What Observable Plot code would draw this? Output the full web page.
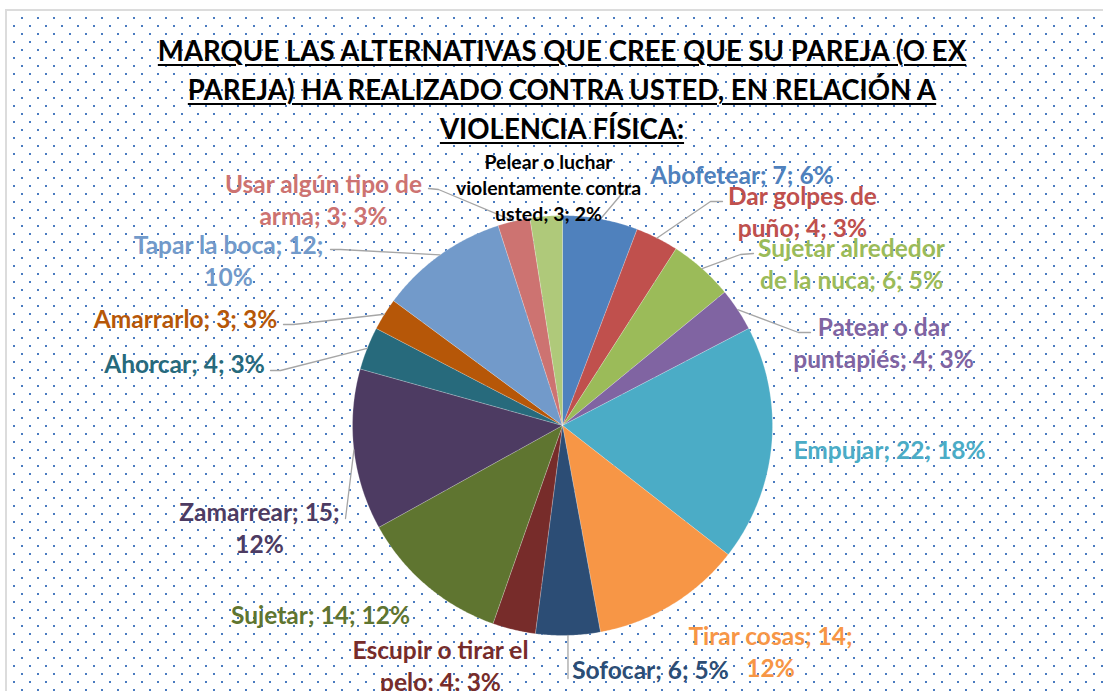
<!DOCTYPE html>
<html><head><meta charset="utf-8">
<script src="https://cdn.jsdelivr.net/npm/d3@7"></script>
<script src="https://cdn.jsdelivr.net/npm/@observablehq/plot@0.6"></script>
<style>
html,body{margin:0;padding:0;background:#fff;}
body{width:1103px;height:691px;overflow:hidden;position:relative;font-family:Lato,"Open Sans",sans-serif;}
#frame{position:absolute;left:5px;top:9px;width:1200px;height:800px;border:2px solid #dcdcdc;
 background-image:url("data:image/svg+xml,%3Csvg xmlns='http://www.w3.org/2000/svg' width='16' height='16' shape-rendering='crispEdges'%3E%3Crect x='0' y='0' width='2' height='2' fill='%234A7BC0'/%3E%3Crect x='8' y='8' width='2' height='2' fill='%234A7BC0'/%3E%3C/svg%3E");
 background-size:16px 16px;background-position:14px 6px;}
#chart{position:absolute;left:0;top:0;}
#title{position:absolute;left:0;width:1124px;top:31px;text-align:center;font-weight:700;font-size:27.6px;line-height:39px;
 text-decoration:underline;text-decoration-thickness:2px;text-underline-offset:3px;color:#000;}
</style></head>
<body>
<div id="frame"></div>
<div id="chart"></div>
<div id="title">MARQUE LAS ALTERNATIVAS QUE CREE QUE SU PAREJA (O EX<br>PAREJA) HA REALIZADO CONTRA USTED, EN RELACIÓN A<br>VIOLENCIA FÍSICA:</div>
<script>
// ---- data ----
const names = ["Abofetear","Dar golpes de puño","Sujetar alrededor de la nuca","Patear o dar puntapiés","Empujar","Tirar cosas","Sofocar","Escupir o tirar el pelo","Sujetar","Zamarrear","Ahorcar","Amarrarlo","Tapar la boca","Usar algún tipo de arma","Pelear o luchar violentamente contra usted"];
const counts = [7,4,6,4,22,14,6,4,14,15,4,3,12,3,3];
const percents = ["6%","3%","5%","3%","18%","12%","5%","3%","12%","12%","3%","3%","10%","3%","2%"];
const colors = ["#4F81BD","#C0504D","#9BBB59","#8064A2","#4BACC6","#F79646","#2C4D75","#772C2A","#5F7530","#4D3B62","#276A7C","#B65708","#729ACA","#CD7371","#AFC97A"];

// ---- layout (pixel offsets from the pie centre, y downward) ----
const W = 1103, H = 691, CX = 562, CY = 425, R = 210;
const labelWords = [[3],[3,3],[2,5],[3,3],[4],[3,1],[3],[4,3],[3],[2,1],[3],[3],[4,1],[4,3],[3,2,3]];
const labelPos = [[179.5,-252],[240,-215],[289,-162.5],[321,-84],[327,23],[208,225],[88,243],[-122,239],[-242,188],[-303,101.5],[-378,-63],[-377,-108],[-334,-166],[-239,-227],[-14,-239]];
const leaderPath = [[[68,-242]],[[148,-224],[160,-224]],[[178,-171],[191,-172]],[[236,-93],[248,-93]],[],[],[[5.5,253]],[],[],[[-217,93]],[[-282,-55],[-292,-55]],[[-269,-101],[-279,-101]],[[-222,-176],[-232,-176]],[[-124,-236],[-134,-237]],[]];

// ---- derived ----
const total = d3.sum(counts);
let acc = 0;
const slices = names.map((name, i) => {
  const a0 = acc / total * 2 * Math.PI; acc += counts[i];
  const a1 = acc / total * 2 * Math.PI;
  return {name, i, a0, a1, mid: (a0 + a1) / 2};
});
const slicePts = slices.flatMap(s => {
  const n = Math.max(2, Math.ceil((s.a1 - s.a0) / (Math.PI / 360)));
  const pts = [{name: s.name, x: 0, y: 0}];
  for (let k = 0; k <= n; k++) {
    const a = s.a0 + (s.a1 - s.a0) * k / n;
    pts.push({name: s.name, x: Math.sin(a), y: Math.cos(a)});
  }
  pts.push({name: s.name, x: 0, y: 0});
  return pts;
});
const circlePts = d3.range(0, 361, 2).map(d => ({x: Math.sin(d * Math.PI / 180), y: Math.cos(d * Math.PI / 180)}));
const leaderPts = slices.flatMap(s => {
  const path = leaderPath[s.i];
  if (!path.length) return [];
  return [{name: s.name, x: Math.sin(s.mid), y: Math.cos(s.mid)},
    ...path.map(([dx, dy]) => ({name: s.name, x: dx / R, y: -dy / R}))];
});
const labels = slices.map(s => {
  const words = `${s.name}; ${counts[s.i]}; ${percents[s.i]}`.split(" ");
  const lines = []; let p = 0;
  for (const n of labelWords[s.i]) { lines.push(words.slice(p, p + n).join(" ")); p += n; }
  return {name: s.name, i: s.i, text: lines.join("\n"), x: labelPos[s.i][0] / R, y: -labelPos[s.i][1] / R};
});

const svg = Plot.plot({
  width: W, height: H, margin: 0,
  x: {domain: [-CX / R, (W - CX) / R], axis: null},
  y: {domain: [-(H - CY) / R, CY / R], axis: null},
  color: {domain: names, range: colors},
  style: {background: "transparent", overflow: "visible"},
  marks: [
    Plot.line(circlePts, {x: "x", y: "y", fill: "#000", fillOpacity: 0.3, stroke: "none", dx: 2, dy: 3, ariaLabel: "pie-shadow"}),
    Plot.line(slicePts, {x: "x", y: "y", z: "name", fill: "name", stroke: "#ffffff", strokeWidth: 0.6, strokeOpacity: 0.35, curve: "linear"}),
    Plot.line(leaderPts, {x: "x", y: "y", z: "name", stroke: "#a6a6a6", strokeWidth: 1.3}),
    Plot.text(labels.filter(d => d.i < 14), {x: "x", y: "y", text: "text", fill: "name", fontWeight: "bold", fontSize: 24.5, lineHeight: 1.3, textAnchor: "middle", lineAnchor: "middle", fontFamily: "Lato"}),
    Plot.text(labels.filter(d => d.i === 14), {x: "x", y: "y", text: "text", fill: "#000", fontWeight: "bold", fontSize: 19.5, lineHeight: 1.33, textAnchor: "middle", lineAnchor: "middle", fontFamily: "Lato"})
  ]
});
d3.select(svg).insert("defs", ":first-child").html('<filter id="pieShadow" x="-20%" y="-20%" width="140%" height="140%"><feGaussianBlur stdDeviation="4"/></filter>');
d3.select(svg).select('g[aria-label="pie-shadow"]').attr("filter", "url(#pieShadow)");
document.getElementById("chart").appendChild(svg);
</script>
</body></html>
